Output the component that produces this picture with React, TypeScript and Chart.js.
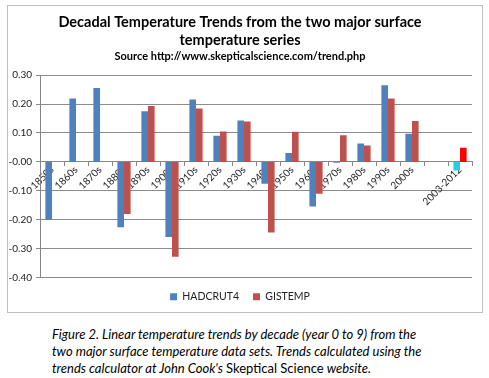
import React, { useEffect, useRef } from "react";
import { Chart, registerables } from "chart.js";

Chart.register(...registerables);

const categories = [
  "1850s", "1860s", "1870s", "1880s", "1890s", "1900s", "1910s", "1920s", "1930s",
  "1940s", "1950s", "1960s", "1970s", "1980s", "1990s", "2000s", "", "2003-2012",
];
const hadcrut4 = [
  -0.2, 0.219, 0.256, -0.226, 0.175, -0.26, 0.216, 0.09, 0.143,
  -0.076, 0.031, -0.154, -0.003, 0.064, 0.265, 0.097, null, -0.03,
];
const gistemp = [
  null, null, null, -0.18, 0.193, -0.328, 0.185, 0.105, 0.14,
  -0.244, 0.104, -0.11, 0.092, 0.057, 0.219, 0.141, null, 0.049,
];
const seriesNames = ["HADCRUT4", "GISTEMP"];
const titleLines = ["Decadal Temperature Trends from the two major surface", "temperature series"];
const subtitleText = "Source http://www.skepticalscience.com/trend.php";
const yMin = -0.4;
const yMax = 0.3;
const yStep = 0.1;

const BLUE = "#4F81BD";
const RED = "#C0504D";
const CYAN = "#2CCBE6";
const BRIGHT_RED = "#FF0000";
const HIGHLIGHT = "2003-2012";
const FONT = "Lato, 'Open Sans', sans-serif";

export default function App() {
  const ref = useRef<HTMLCanvasElement | null>(null);

  useEffect(() => {
    if (!ref.current) return;
    const chart = new Chart(ref.current, {
      type: "bar",
      data: {
        labels: categories,
        datasets: [
          {
            label: seriesNames[0],
            data: hadcrut4,
            backgroundColor: (ctx: any) =>
              ctx.dataIndex !== undefined && categories[ctx.dataIndex] === HIGHLIGHT ? CYAN : BLUE,
            borderWidth: 0,
            categoryPercentage: 0.55,
            barPercentage: 1,
          },
          {
            label: seriesNames[1],
            data: gistemp,
            backgroundColor: (ctx: any) =>
              ctx.dataIndex !== undefined && categories[ctx.dataIndex] === HIGHLIGHT ? BRIGHT_RED : RED,
            borderWidth: 0,
            categoryPercentage: 0.55,
            barPercentage: 1,
          },
        ],
      },
      options: {
        responsive: false,
        animation: false,
        layout: { padding: { left: 0, right: 10, top: 0, bottom: 0 } },
        plugins: {
          tooltip: { enabled: false },
          title: {
            display: true,
            text: titleLines,
            color: "#000",
            font: { family: FONT, size: 14.5, weight: "bold", lineHeight: 1.24 },
            padding: { top: 7, bottom: 1 },
          },
          subtitle: {
            display: true,
            text: subtitleText,
            color: "#000",
            font: { family: FONT, size: 11, weight: "bold", lineHeight: 1.2 },
            padding: { top: 0, bottom: 12 },
          },
          legend: {
            position: "bottom",
            labels: {
              boxWidth: 7,
              boxHeight: 7,
              padding: 14,
              color: "#222",
              font: { family: FONT, size: 10.5 },
            },
          },
        },
        scales: {
          x: {
            position: { y: 0 } as any,
            grid: {
              drawOnChartArea: false,
              drawTicks: true,
              tickLength: 4,
              offset: true,
              color: "#868686",
            },
            border: { color: "#868686" },
            ticks: {
              autoSkip: false,
              minRotation: 45,
              maxRotation: 45,
              padding: -2,
              color: "#222",
              font: { family: FONT, size: 10 },
            },
          },
          y: {
            min: yMin,
            max: yMax,
            afterFit: (s: any) => {
              s.width = 32;
            },
            grid: { color: "#8c8c8c", tickLength: 4 },
            border: { color: "#868686" },
            ticks: {
              stepSize: yStep,
              padding: 4,
              color: "#222",
              font: { family: FONT, size: 10 },
              callback: (v: any) => Number(v).toFixed(2),
            },
          },
        },
      },
    });
    return () => chart.destroy();
  }, []);

  return (
    <div style={{ position: "absolute", left: 0, top: 0, width: 489, height: 378, background: "#fff" }}>
      <div
        style={{
          position: "absolute",
          left: 7,
          top: 5,
          width: 476,
          height: 308,
          boxSizing: "border-box",
          border: "1px solid #bfbfbf",
        }}
      >
        <canvas ref={ref} width={474} height={306} style={{ display: "block" }} />
      </div>
      <div
        style={{
          position: "absolute",
          left: 52,
          top: 326,
          fontFamily: FONT,
          fontStyle: "italic",
          fontSize: 13,
          lineHeight: "17px",
          color: "#000",
          whiteSpace: "nowrap",
        }}
      >
        <div>Figure 2. Linear temperature trends by decade (year 0 to 9) from the</div>
        <div>two major surface temperature data sets. Trends calculated using the</div>
        <div>
          trends calculator at John Cook's <span style={{ fontStyle: "normal" }}>Skeptical Science</span> website.
        </div>
      </div>
    </div>
  );
}
